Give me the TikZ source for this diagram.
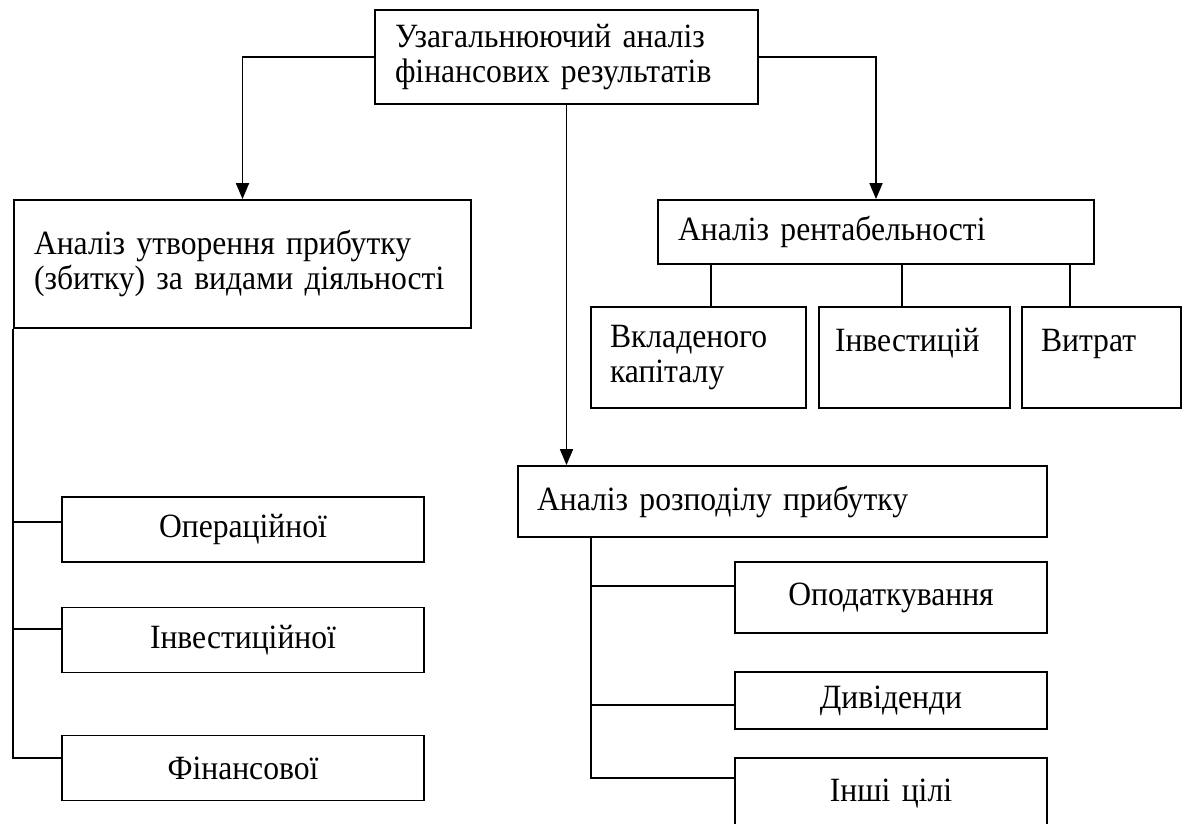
\documentclass[tikz,border=0pt]{standalone}
\usepackage{fontspec}
\setmainfont{Liberation Serif}[FakeStretch=0.93]
\usetikzlibrary{arrows.meta}
\begin{document}
\begin{tikzpicture}[x=0.5pt,y=-0.5pt,
  box/.style={draw, line width=0.9pt, rectangle, inner xsep=10pt, inner ysep=0pt, font=\fontsize{17}{17.5}\selectfont},
  lbox/.style={box, align=left},
  cbox/.style={box, align=center},
  conn/.style={line width=0.9pt},
  arr/.style={conn, -{Triangle[width=6.5pt,length=8pt]}}]
\useasboundingbox (0,0) rectangle (1186,823);
\fill[white] (0,0) rectangle (1186,823);
\clip (0,0) rectangle (1186,823);

\node[lbox, text width=171.5pt, minimum height=47pt] (T) at (566.5,57) {Узагальнюючий аналіз\\фінансових результатів};
\node[lbox, text width=208.5pt, minimum height=64pt] (A) at (242.5,264) {Аналіз утворення прибутку\\(збитку) за видами діяльності};
\node[lbox, text width=198pt, minimum height=32pt] (R) at (876,232) {Аналіз рентабельності};
\node[lbox, text width=88.5pt, minimum height=50.5pt, inner xsep=9.5pt] (V) at (698.5,357.5) {Вкладеного\\капіталу};
\node[lbox, text width=79.5pt, minimum height=50.5pt, inner xsep=8pt] (I) at (914.5,357.5) {Інвестицій\\\mbox{}};
\node[lbox, text width=60.5pt, minimum height=50.5pt, inner xsep=9.5pt] (W) at (1101.5,357.5) {Витрат\\\mbox{}};

\node[cbox, text width=161pt, minimum height=32.5pt] (O1) at (243,529.5) {Операційної};
\node[cbox, text width=161pt, minimum height=32.5pt] (O2) at (243,640) {Інвестиційної};
\node[cbox, text width=161pt, minimum height=32.5pt] (O3) at (243,768) {Фінансової};

\node[lbox, text width=245.5pt, minimum height=35.5pt, inner xsep=9.5pt] (D) at (782.5,501.5) {Аналіз розподілу прибутку};
\node[cbox, text width=136pt, minimum height=35.5pt] (P1) at (891,597.5) {Оподаткування};
\node[cbox, text width=136pt, minimum height=28.5pt] (P2) at (891,700.5) {Дивіденди};
\node[cbox, text width=136pt, minimum height=36pt] (P3) at (891,794) {Інші цілі};

\coordinate (s1) at (711,0);
\coordinate (s2) at (902,0);
\coordinate (s3) at (1070,0);
\coordinate (b1) at (0,522);
\coordinate (b2) at (0,629);
\coordinate (b3) at (0,758);
\coordinate (c0) at (591,0);
\coordinate (d1) at (0,586);
\coordinate (d2) at (0,705);
\coordinate (d3) at (0,778);

\draw[arr] (T.west) -| (A.north);
\draw[arr] (T.east) -| (R.north);
\draw[arr] (T.south) -- (T.south |- D.north);

\draw[conn] (R.south -| s1) -- (V.north -| s1);
\draw[conn] (R.south -| s2) -- (I.north -| s2);
\draw[conn] (R.south -| s3) -- (W.north -| s3);

\draw[conn] (A.south west) -- (A.south west |- b3) -- (O3.west |- b3);
\draw[conn] (A.south west |- b1) -- (O1.west |- b1);
\draw[conn] (A.south west |- b2) -- (O2.west |- b2);

\draw[conn] (D.south -| c0) -- (c0 |- d3) -- (P3.west |- d3);
\draw[conn] (c0 |- d1) -- (P1.west |- d1);
\draw[conn] (c0 |- d2) -- (P2.west |- d2);
\end{tikzpicture}
\end{document}
